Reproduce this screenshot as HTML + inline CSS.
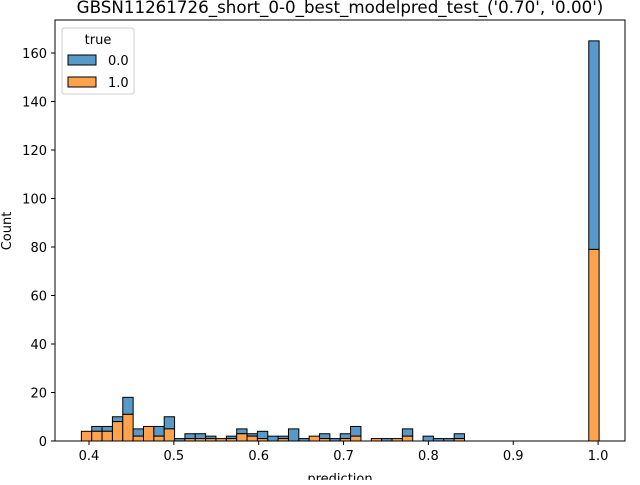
<!DOCTYPE html>
<html><head><meta charset="utf-8"><style>
body{margin:0;background:#fff;font-family:"Liberation Sans","DejaVu Sans",sans-serif}
svg text{font-family:"DejaVu Sans","Liberation Sans",sans-serif;font-size:13px;fill:#000}
</style></head><body>
<svg id="chart" width="640" height="480" xmlns="http://www.w3.org/2000/svg">
<rect width="640" height="480" fill="#fff"/>
</svg>
<script>
const binStart = 0.391;
const binEnd = 1.0012;
const totalCounts = [4,6,6,10,18,5,6,6,10,1,3,3,2,1,2,5,3,4,2,2,5,1,2,3,1,3,6,0,1,1,1,5,0,2,1,1,3,0,0,0,0,0,0,0,0,0,0,0,0,165];
const orangeCounts = [4,4,4,8,11,2,6,2,5,0,1,1,1,1,1,3,2,1,0,1,0,0,2,1,0,1,2,0,1,0,1,2,0,0,0,0,1,0,0,0,0,0,0,0,0,0,0,0,0,79];
const xTicks = [0.4,0.5,0.6,0.7,0.8,0.9,1.0];
const xTickLabels = ["0.4","0.5","0.6","0.7","0.8","0.9","1.0"];
const yTicks = [0,20,40,60,80,100,120,140,160];

const svg = document.getElementById('chart');
const NS = 'http://www.w3.org/2000/svg';
const L=55,R=625,T=20,B=441;
const xs = v => 89 + (v-0.4)*848.5;
const ys = v => B - v*2.425;
function mk(tag, attrs, parent){const e=document.createElementNS(NS,tag);for(const k in attrs)e.setAttribute(k,attrs[k]);(parent||svg).appendChild(e);return e;}

const bars = mk('g',{});


const n = totalCounts.length, w = (binEnd-binStart)/n;
for(let i=0;i<n;i++){
  const x0=xs(binStart+i*w), x1=xs(binStart+(i+1)*w);
  const o=orangeCounts[i], t=totalCounts[i];
  if(t-o>0){
    const r=mk('rect',{x:x0,y:ys(t),width:x1-x0,height:ys(o)-ys(t),fill:'#5799c7',stroke:'#000','stroke-width':1},bars);
    
    
  }
  if(o>0){
    const r=mk('rect',{x:x0,y:ys(o),width:x1-x0,height:ys(0)-ys(o),fill:'#ffa24e',stroke:'#000','stroke-width':1},bars);
    
    
  }
}
const frame = mk('rect',{x:L,y:T,width:R-L,height:B-T,fill:'none',stroke:'#000','stroke-width':1});



xTicks.forEach((v,i)=>{
  const x=xs(v);
  const tk=mk('line',{x1:x,x2:x,y1:B,y2:B+4,stroke:'#000'});
  
  
  const t=mk('text',{x:x,y:B+19,'text-anchor':'middle'});t.textContent=xTickLabels[i];
  
  
});
yTicks.forEach(v=>{
  const y=ys(v);
  const tk=mk('line',{x1:L-4,x2:L,y1:y,y2:y,stroke:'#000'});
  
  
  const t=mk('text',{x:L-8,y:y+5,'text-anchor':'end'});t.textContent=v;
  
  
});
const xt=mk('text',{x:340,y:483,'text-anchor':'middle'});xt.textContent='prediction';


const yt=mk('text',{x:11,y:231,'text-anchor':'middle',transform:'rotate(-90 11 231)'});yt.textContent='Count';


const tt=mk('text',{x:340,y:13,'text-anchor':'middle',style:'font-size:16.7px'});tt.textContent="GBSN11261726_short_0-0_best_modelpred_test_('0.70', '0.00')";



const lg=mk('g',{});


mk('rect',{x:62,y:28,width:72,height:66,rx:2,fill:'#fff','fill-opacity':0.8,stroke:'#ccc'},lg);
const lt=mk('text',{x:98,y:44,'text-anchor':'middle'},lg);lt.textContent='true';


[['0.0','#5799c7',55],['1.0','#ffa24e',77]].forEach(([lab,c,y])=>{
  const p=mk('rect',{x:68,y:y,width:28,height:10,fill:c,stroke:'#000'},lg);
  
  
  const t=mk('text',{x:108,y:y+10},lg);t.textContent=lab;
  
  
});
</script>
</body></html>
